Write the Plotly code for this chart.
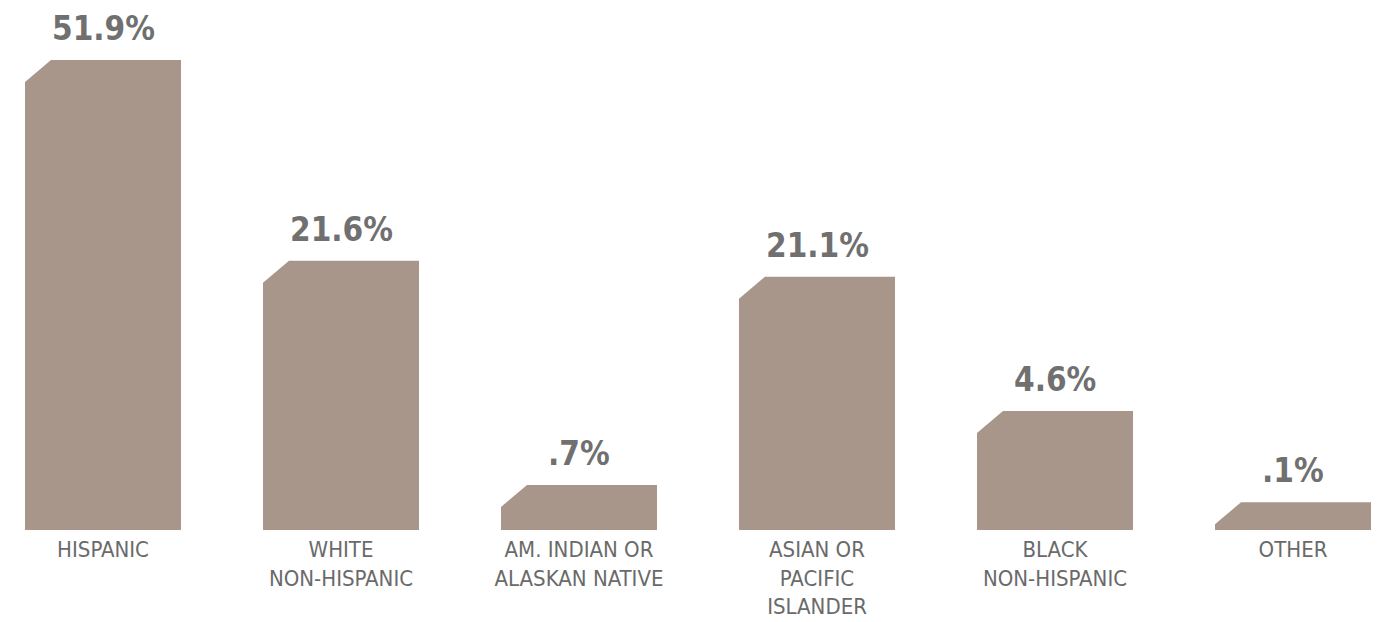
import plotly.graph_objects as go

# ---- data ----
categories = ["HISPANIC", "WHITE<br>NON-HISPANIC", "AM. INDIAN OR<br>ALASKAN NATIVE",
              "ASIAN OR<br>PACIFIC<br>ISLANDER", "BLACK<br>NON-HISPANIC", "OTHER"]
percent_labels = ["51.9%", "21.6%", ".7%", "21.1%", "4.6%", ".1%"]
# bar heights as drawn in the infographic (not to linear scale), in % units, tallest = 51.9
drawn_heights = [51.9, 29.74, 4.97, 27.97, 13.14, 3.06]

# ---- style / layout constants ----
W, H = 1385, 622
ML, MR, MT, MB = 17, 22, 0, 100
bar_w = 0.6555
x_range = [-bar_w / 2, len(categories) - 1 + bar_w / 2]
plot_h = H - MT - MB
y_max = 51.9 * plot_h / 470.0
px_x = (W - ML - MR) / (x_range[1] - x_range[0])   # px per x unit
px_y = plot_h / y_max                                # px per y unit
cham_w = 26 / px_x
cham_h_px = 22

bar_color = "#a79689"
val_color = "#707070"
lab_color = "#6a6a6a"
FONT = "Liberation Sans Narrow, DejaVu Sans Condensed, Arial Narrow, sans-serif"

fig = go.Figure()
for i, h in enumerate(drawn_heights):
    ch = min(cham_h_px, h * px_y - 3) / px_y
    x0, x1 = i - bar_w / 2, i + bar_w / 2
    xs = [x0, x0, x0 + cham_w, x1, x1, x0]
    ys = [0, h - ch, h, h, 0, 0]
    fig.add_trace(go.Scatter(x=xs, y=ys, fill="toself", mode="lines",
                             line=dict(width=0, color=bar_color), fillcolor=bar_color,
                             hoverinfo="skip", showlegend=False))
    fig.add_annotation(x=i, y=h, text="<b>%s</b>" % percent_labels[i], showarrow=False,
                       yanchor="bottom", yshift=10,
                       font=dict(family=FONT, size=33, color=val_color))

fig.update_layout(
    width=W, height=H,
    margin=dict(l=ML, r=MR, t=MT, b=MB, autoexpand=False),
    paper_bgcolor="white", plot_bgcolor="white",
    xaxis=dict(range=x_range, tickmode="array", tickvals=list(range(len(categories))),
               ticktext=categories, showgrid=False, zeroline=False, showline=False,
               ticks="", ticklabelstandoff=4, automargin=False,
               tickfont=dict(family=FONT, size=22, color=lab_color), fixedrange=True),
    yaxis=dict(range=[0, y_max], showgrid=False, zeroline=False, showline=False,
               showticklabels=False, fixedrange=True),
)
fig.write_html("out.html", config={"displayModeBar": False})
